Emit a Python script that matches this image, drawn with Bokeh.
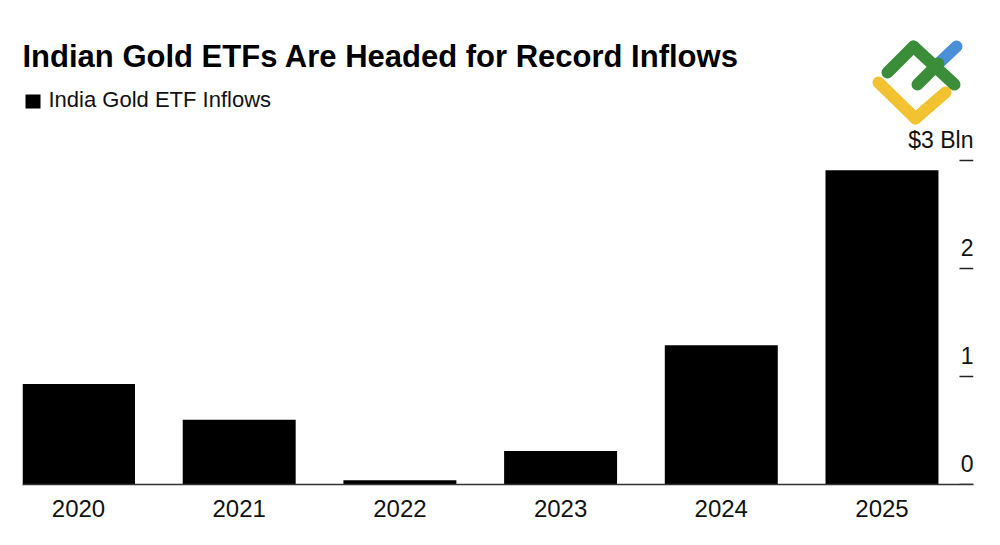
from bokeh.plotting import figure
from bokeh.models import Range1d, FixedTicker, Label, Arrow
from bokeh.core.properties import value
from bokeh.embed import file_html
from bokeh.resources import INLINE

# ---- data ----
years = ["2020", "2021", "2022", "2023", "2024", "2025"]
inflows = [0.93, 0.60, 0.04, 0.31, 1.29, 2.91]
y_ticks = [0, 1, 2, 3]
y_tick_labels = ["0", "1", "2", "$3 Bln"]
title_text = "Indian Gold ETFs Are Headed for Record Inflows"
series_name = "India Gold ETF Inflows"

FONT = "Liberation Sans"
idx = list(range(len(years)))

W, H = 1000, 545
BL, BR, BT, BB = 22, 27, 0, 61
x_start, x_end = -0.3485, 5.5695
y_start, y_end = 0, 4.4815

p = figure(width=W, height=H, output_backend="svg", toolbar_location=None,
           x_range=Range1d(x_start, x_end), y_range=Range1d(y_start, y_end),
           min_border_left=BL, min_border_right=BR, min_border_top=BT,
           min_border_bottom=BB, y_axis_location=None)
p.outline_line_color = None
p.grid.visible = False
p.background_fill_color = "white"
p.border_fill_color = "white"

p.vbar(x=idx, top=inflows, width=0.703, fill_color="black", line_color=None)

# x axis
xa = p.xaxis[0]
xa.ticker = FixedTicker(ticks=idx)
xa.major_label_overrides = {i: y for i, y in zip(idx, years)}
xa.major_tick_line_color = None
xa.minor_tick_line_color = None
xa.axis_line_color = "#333333"
xa.axis_line_width = 1.5
xa.major_label_text_font = FONT
xa.major_label_text_font_size = "24px"
xa.major_label_text_color = "#111111"
xa.major_label_standoff = 9

# right-side value ticks (short marks at the frame's right edge) and labels
frame_w = W - BL - BR
tick_len = 14 * (x_end - x_start) / frame_w
p.segment(x0=[x_end - tick_len] * len(y_ticks), x1=[x_end] * len(y_ticks),
          y0=y_ticks, y1=y_ticks, line_color="#222222", line_width=1.5)
p.text(x=[x_end] * len(y_ticks), y=y_ticks, text=y_tick_labels,
       text_align="right", text_baseline="alphabetic", y_offset=-21,
       text_font=value(FONT), text_font_size="23px", text_color="#111111")

# title and legend
p.add_layout(Label(x=0, y=428, x_units="screen", y_units="screen", text=title_text,
                   text_font=FONT, text_font_style="bold", text_font_size="31px",
                   text_color="black", text_baseline="alphabetic"))
p.add_layout(Label(x=26, y=385, x_units="screen", y_units="screen", text=series_name,
                   text_font=FONT, text_font_size="22px", text_color="#111111",
                   text_baseline="alphabetic"))
p.add_layout(Arrow(x_start=3, y_start=383, x_end=18, y_end=383,
                   start_units="screen", end_units="screen", end=None,
                   line_color="black", line_width=14, line_cap="butt"))

# logo (decoration)
logo = [
    ("#f2c230", (856, 402), (893, 366)),
    ("#f2c230", (893, 366), (923, 392)),
    ("#3c8d3a", (865, 412), (891, 438)),
    ("#3c8d3a", (891, 438), (932, 400)),
    ("#4a90d9", (916, 421), (934, 438)),
    ("#3c8d3a", (895, 400), (916, 421)),
]
for c, a, b in logo:
    p.add_layout(Arrow(x_start=a[0], y_start=a[1], x_end=b[0], y_end=b[1],
                       start_units="screen", end_units="screen", end=None,
                       line_color=c, line_width=12, line_cap="round"))

open("out.html", "w").write(file_html(p, INLINE))
